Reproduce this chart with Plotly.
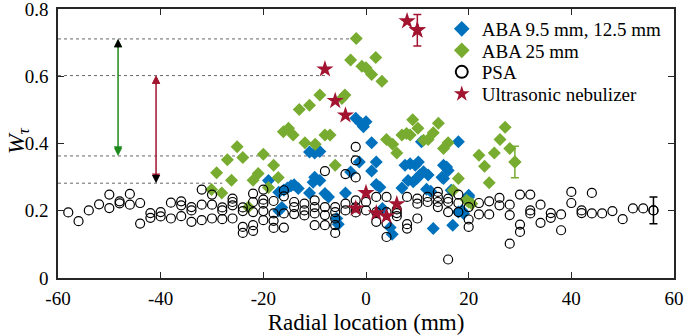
import plotly.graph_objects as go

# ---------------- data ----------------
aba_small_x = [-19, -17, -16, -15.3, -14.6, -14, -17, -16.4,
               -11, -10, -9, -10, -9, -10.3, -13.2, -11, -8, -7.3, -4, -3, -5.7, -5.4,
               -2, -1, 0, -0.5, 1.1, -1.3, 2, 1.1, 2, 2.7, 3.2, 4.7, 5.1,
               7, 8.2, 7.6, 8.6, 9.6, 10.2, 9.2, 9.9, 10.5, 11.2, 12.1, 11.8, 12.6,
               15.1, 15.7, 16, 14.8, 15.1, 16.6, 18, 20, 18.7, 19, 13.1, 16.9, 10.8, 20, 18]
aba_small_y = [0.29, 0.255, 0.262, 0.268, 0.274, 0.277, 0.2, 0.21,
               0.375, 0.372, 0.376, 0.3, 0.29, 0.285, 0.266, 0.253, 0.251, 0.241, 0.253, 0.315, 0.177, 0.16,
               0.475, 0.46, 0.465, 0.45, 0.402, 0.345, 0.345, 0.318, 0.278, 0.27, 0.207, 0.15, 0.13,
               0.268, 0.29, 0.335, 0.34, 0.335, 0.345, 0.286, 0.296, 0.306, 0.316, 0.306, 0.264, 0.258,
               0.335, 0.33, 0.32, 0.3, 0.296, 0.261, 0.405, 0.246, 0.201, 0.192, 0.147, 0.157, 0.405, 0.241, 0.196]

aba25_x = [-1.9, -3, -0.8, 0, 1.1, 1.9, 3.1, -9, -11, -13, -4.7, -4.1,
           -16.1, -15.1, -14.2, -11.9, -9.9, -8, -7, -25.1, -20, -24, -27,
           -18, -29.1, -26.2, -21, -22, -17.1, -30.1, -28.1, -19, -22.9, -6,
           4, 5.2, 6, 7, 7.9, 9.1, 10.1, 11.2, 12.1, 13.1, 14.1, 15.1, 16,
           27.1, 26.1, 28, 25, 22, 23.1, 24, 18, 20, 20.6, 17, 19.6, 8.6, 29]
aba25_y = [0.712, 0.648, 0.63, 0.625, 0.605, 0.656, 0.585, 0.544, 0.514, 0.501, 0.534, 0.544,
           0.435, 0.445, 0.425, 0.402, 0.398, 0.425, 0.425, 0.39, 0.368, 0.358, 0.352,
           0.335, 0.313, 0.291, 0.311, 0.291, 0.299, 0.263, 0.253, 0.269, 0.211, 0.335,
           0.412, 0.398, 0.372, 0.425, 0.43, 0.471, 0.445, 0.41, 0.412, 0.432, 0.46, 0.385, 0.402,
           0.448, 0.412, 0.385, 0.372, 0.365, 0.332, 0.283, 0.296, 0.226, 0.221, 0.261, 0.231, 0.425, 0.345]
aba25_err = 0.047

psa_x = [-58, -56, -54, -52, -50, -50, -48, -48, -46, -46, -44, -44, -42, -42, -40, -40,
         -38, -38, -36, -36, -36, -34, -34, -34, -32, -32, -32, -30, -30, -30, -28, -28, -28,
         -26, -26, -26, -26, -24, -24, -24, -24, -22, -22, -22, -22, -22,
         -20, -20, -20, -20, -20, -18, -18, -18, -18, -16, -16, -16, -16,
         -14, -14, -14, -12, -12, -12, -10, -10, -10, -10, -8, -8, -8, -8,
         -6, -6, -6, -6, -6, -4, -4, -4, -2, -2, -2, -2, -2, -2, 0, 0,
         2, 2, 2, 4, 4, 4, 4, 6, 6, 6, 8, 8, 8, 10, 10, 10, 12, 12,
         14, 14, 14, 14, 16, 16, 16, 16, 18, 18, 18, 20, 20, 20, 22, 22, 24, 24, 26, 26,
         28, 28, 28, 30, 30, 30, 32, 32, 32, 34, 34, 36, 36, 38, 38, 40, 40, 42, 42, 44, 44,
         46, 48, 50, 52, 54, 56]
psa_y = [0.195, 0.169, 0.201, 0.219, 0.248, 0.208, 0.228, 0.222, 0.25, 0.218, 0.223, 0.162, 0.193, 0.179, 0.196, 0.183,
         0.224, 0.177, 0.228, 0.216, 0.184, 0.211, 0.201, 0.167, 0.263, 0.218, 0.172, 0.248, 0.218, 0.177, 0.21, 0.201, 0.175,
         0.236, 0.226, 0.216, 0.177, 0.21, 0.199, 0.152, 0.134, 0.251, 0.226, 0.196, 0.157, 0.14,
         0.263, 0.233, 0.221, 0.199, 0.172, 0.229, 0.192, 0.17, 0.149, 0.261, 0.243, 0.192, 0.15,
         0.226, 0.211, 0.19, 0.221, 0.201, 0.186, 0.231, 0.211, 0.192, 0.157, 0.318, 0.211, 0.187, 0.157,
         0.211, 0.196, 0.177, 0.157, 0.134, 0.309, 0.221, 0.201, 0.39, 0.35, 0.299, 0.231, 0.21, 0.195, 0.226, 0.201,
         0.241, 0.196, 0.167, 0.241, 0.196, 0.162, 0.122, 0.204, 0.193, 0.184, 0.241, 0.16, 0.147, 0.236, 0.221, 0.177, 0.241, 0.226,
         0.256, 0.241, 0.226, 0.211, 0.236, 0.226, 0.196, 0.055, 0.248, 0.223, 0.196, 0.211, 0.174, 0.152, 0.223, 0.189, 0.228, 0.189, 0.238, 0.216,
         0.218, 0.187, 0.102, 0.248, 0.159, 0.137, 0.248, 0.201, 0.192, 0.218, 0.164, 0.193, 0.179, 0.189, 0.142, 0.256, 0.223, 0.201, 0.193, 0.253, 0.192,
         0.192, 0.199, 0.175, 0.207, 0.207, 0.201]
psa_err = 0.04

us_x = [-8, -6, -4, -2, 0, 2, 4, 6, 8, 10]
us_y = [0.621, 0.527, 0.484, 0.207, 0.253, 0.193, 0.184, 0.22, 0.764, 0.737]
us_err = 0.047

# reference levels (dotted) and the span they are drawn to
ref_levels = [0.711, 0.602, 0.363, 0.282]
ref_ends = [-2, -7.5, -2, -28]

# range arrows: (x, low, high)
arrow_green = (-48.3, 0.363, 0.711)
arrow_red = (-40.9, 0.282, 0.602)

x_ticks = [-60, -40, -20, 0, 20, 40, 60]
x_ticktext = ["-60", "-40", "-20", "0", "20", "40", "60"]
y_ticks = [0, 0.2, 0.4, 0.6, 0.8]
y_ticktext = ["0", "0.2", "0.4", "0.6", "0.8"]

legend_names = ["ABA 9.5 mm, 12.5 mm", "ABA 25 mm", "PSA", "Ultrasonic nebulizer"]

BLUE = "#0072BD"
GREEN = "#77AC30"
DKGREEN = "#1E8A1E"
RED = "#A2142F"
AXC = "#262626"
FONT = "Liberation Serif, Times New Roman, serif"

fig = go.Figure()

# dotted reference lines
for lvl, xe in zip(ref_levels, ref_ends):
    fig.add_shape(type="line", x0=-60, x1=xe, y0=lvl, y1=lvl, xref="x", yref="y",
                  line=dict(color="#666666", width=1, dash="dot"), layer="below")

fig.add_trace(go.Scatter(x=aba_small_x, y=aba_small_y, mode="markers", name=legend_names[0],
                         legend="legend",
                         marker=dict(symbol="diamond", size=10, color=BLUE, line=dict(width=0))))
fig.add_trace(go.Scatter(x=aba25_x, y=aba25_y, mode="markers", name=legend_names[1],
                         legend="legend2",
                         marker=dict(symbol="diamond", size=10, color=GREEN, line=dict(width=0))))
fig.add_trace(go.Scatter(x=[aba25_x[-1]], y=[aba25_y[-1]], mode="markers", showlegend=False,
                         marker=dict(symbol="diamond", size=10, color=GREEN),
                         error_y=dict(type="constant", value=aba25_err, color=GREEN, thickness=1.5, width=4)))
fig.add_trace(go.Scatter(x=psa_x, y=psa_y, mode="markers", name=legend_names[2],
                         legend="legend3",
                         marker=dict(symbol="circle-open", size=9, color="black", line=dict(width=1.2))))
fig.add_trace(go.Scatter(x=[psa_x[-1]], y=[psa_y[-1]], mode="markers", showlegend=False,
                         marker=dict(symbol="circle-open", size=9, color="black", line=dict(width=1.2)),
                         error_y=dict(type="constant", value=psa_err, color="black", thickness=1.5, width=4)))
fig.add_trace(go.Scatter(x=us_x, y=us_y, mode="markers", name=legend_names[3],
                         legend="legend4",
                         marker=dict(symbol="star", size=13, color=RED, line=dict(width=0))))
fig.add_trace(go.Scatter(x=[us_x[-1]], y=[us_y[-1]], mode="markers", showlegend=False,
                         marker=dict(symbol="star", size=13, color=RED, line=dict(width=0)),
                         error_y=dict(type="constant", value=us_err, color=RED, thickness=1.5, width=4)))

# arrows
def add_arrow(spec, line_color, top_color, bot_color):
    x, lo, hi = spec
    fig.add_annotation(x=x, y=hi, ax=x, ay=lo, xref="x", yref="y", axref="x", ayref="y",
                       showarrow=True, arrowhead=2, arrowside="end+start", arrowsize=1.1,
                       arrowwidth=1.5, arrowcolor=line_color, text="")
    d = 0.03
    fig.add_annotation(x=x, y=hi, ax=x, ay=hi - d, xref="x", yref="y", axref="x", ayref="y",
                       showarrow=True, arrowhead=2, arrowsize=1.1, arrowwidth=1.5,
                       arrowcolor=top_color, text="")
    fig.add_annotation(x=x, y=lo, ax=x, ay=lo + d, xref="x", yref="y", axref="x", ayref="y",
                       showarrow=True, arrowhead=2, arrowsize=1.1, arrowwidth=1.5,
                       arrowcolor=bot_color, text="")

add_arrow(arrow_green, DKGREEN, "black", DKGREEN)
add_arrow(arrow_red, RED, RED, "black")

# y-axis label
fig.add_annotation(x=-0.066, y=0.51, xref="paper", yref="paper", showarrow=False,
                   xanchor="center", yanchor="middle",
                   text="<i>W</i><sub><i>τ</i></sub>", textangle=-90,
                   font=dict(family=FONT, size=24, color="black"))

axis_common = dict(showline=True, linewidth=1.5, linecolor=AXC, mirror="ticks",
                   ticks="inside", ticklen=6, tickwidth=1.2, tickcolor=AXC,
                   showgrid=False, zeroline=False, automargin=False,
                   ticklabeloverflow="allow",
                   tickfont=dict(family=FONT, size=19, color="black"))

fig.update_xaxes(range=[-60, 60], tickvals=x_ticks, ticktext=x_ticktext, ticklabelstandoff=2,
                 title=dict(text="Radial location (mm)", font=dict(family=FONT, size=23, color="black"), standoff=6),
                 **axis_common)
fig.update_yaxes(range=[0, 0.8], tickvals=y_ticks, ticktext=y_ticktext, ticklabelstandoff=4, **axis_common)

# one legend per entry so the row spacing can match the reference
row_px = [29, 50.5, 72, 94]
plot_top, plot_h = 9, 269
leg_common = dict(x=0.623, xanchor="left", yanchor="middle", bgcolor="rgba(0,0,0,0)",
                  font=dict(family=FONT, size=19, color="black"), itemsizing="constant",
                  borderwidth=0)
legends = {}
for i, key in enumerate(["legend", "legend2", "legend3", "legend4"]):
    legends[key] = dict(leg_common, y=1 - (row_px[i] - plot_top) / plot_h)

fig.update_layout(
    width=685, height=335,
    margin=dict(l=58, r=11, t=9, b=57),
    plot_bgcolor="white", paper_bgcolor="white",
    showlegend=True,
    **legends,
)

fig.write_html("out.html", config={"displayModeBar": False},
               post_script="document.body.style.margin='0';")
